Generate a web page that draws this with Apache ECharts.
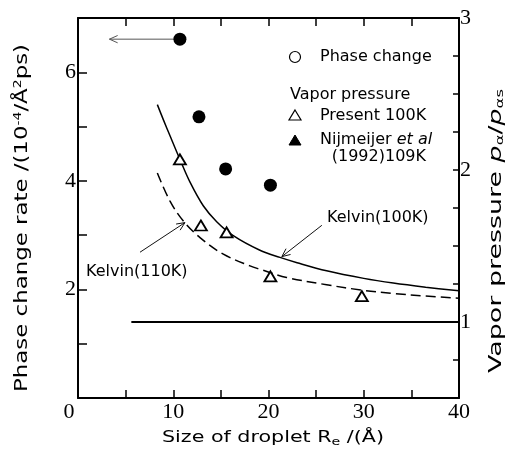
<!DOCTYPE html>
<html>
<head>
<meta charset="utf-8">
<script src="https://cdn.jsdelivr.net/npm/echarts@6/dist/echarts.min.js"></script>
<style>
  html, body { margin: 0; padding: 0; background: #fff; }
  #chart { width: 513px; height: 458px; }
</style>
</head>
<body>
<div id="chart"></div>
<script>
// Phase change rate of droplets (left axis)
const rateSize = [10.7, 12.7, 15.5, 20.2];
const rateValue = [6.61, 5.18, 4.22, 3.92];

// Vapor pressure from the present simulation, 100K (right axis)
const vaporSize = [10.7, 12.9, 15.6, 20.2, 29.8];
const vaporValue = [2.07, 1.635, 1.59, 1.30, 1.17];

// Kelvin equation curve, 100K
const kelvin100Size = [8.33, 9.0, 9.66, 10.7, 11.76, 13.15, 14.56, 16.3, 19.1, 21.2, 23.0, 26.1, 30.0, 33.1, 36.5, 40.0];
const kelvin100Value = [2.43, 2.325, 2.225, 2.07, 1.92, 1.765, 1.66, 1.568, 1.472, 1.425, 1.39, 1.337, 1.287, 1.256, 1.229, 1.205];

// Kelvin equation curve, 110K
const kelvin110Size = [8.33, 9.66, 11.06, 12.81, 15.26, 18.06, 19.1, 21.9, 26.1, 30.0, 33.1, 36.5, 40.0];
const kelvin110Value = [1.98, 1.795, 1.664, 1.555, 1.446, 1.369, 1.347, 1.293, 1.245, 1.208, 1.188, 1.171, 1.157];

// Saturation reference p/ps = 1
const flatSize = [5.6, 40];
const flatValue = [1, 1];

// Annotation arrows: [tailX, tailY, headX, headY]
const rateArrow = [[10.7, 6.61, 3.3, 6.61]];
const kelvinArrows = [[25.6, 1.636, 21.4, 1.43], [6.51, 1.459, 11.23, 1.654]];

// Tick labels
const xLabels = [0, 10, 20, 30, 40];
const leftLabels = [2, 4, 6];
const rightLabels = [1, 2, 3];

const SANS = '"DejaVu Sans", sans-serif';
const SERIF = '"Liberation Serif", "Times New Roman", serif';

function zip(a, b) { return a.map((v, i) => [v, b[i]]); }

// width of a run of text pieces [text, size, style]
const measureCtx = document.createElement('canvas').getContext('2d');
function runWidth(pieces) {
  let w = 0;
  pieces.forEach(([t, size, style]) => {
    measureCtx.font = (style ? style + ' ' : '') + size + 'px ' + SANS;
    w += measureCtx.measureText(t).width;
  });
  return w;
}

// Axis titles, widened along the reading direction to the spaced-out lettering
function axisTitle(x, y, rotation, span, pieces, rich, text) {
  const w = runWidth(pieces);
  return {
    type: 'text', x: x, y: y, rotation: rotation, scaleX: span / w,
    style: {
      text: text, font: pieces[0][1] + 'px ' + SANS, fill: '#000',
      align: 'center', verticalAlign: 'middle', rich: rich
    }
  };
}

function arrowItem(color) {
  return function (params, api) {
    const p0 = api.coord([api.value(0), api.value(1)]);
    const p1 = api.coord([api.value(2), api.value(3)]);
    const ang = Math.atan2(p1[1] - p0[1], p1[0] - p0[0]);
    const L = 9, w = 0.42;
    const a1 = [p1[0] - L * Math.cos(ang - w), p1[1] - L * Math.sin(ang - w)];
    const a2 = [p1[0] - L * Math.cos(ang + w), p1[1] - L * Math.sin(ang + w)];
    return {
      type: 'group',
      children: [
        { type: 'line', shape: { x1: p0[0], y1: p0[1], x2: p1[0], y2: p1[1] },
          style: { stroke: color, lineWidth: 1 } },
        { type: 'polyline', shape: { points: [a1, p1, a2] },
          style: { stroke: color, lineWidth: 1, fill: null } }
      ]
    };
  };
}

const chart = echarts.init(document.getElementById('chart'), null, { renderer: 'canvas' });

const tickStyle = { color: '#000', width: 1.5 };
const supStyle = { fontFamily: SANS, fontSize: 11, fill: '#000', verticalAlign: 'top', padding: [0, 0, 8, 0] };
const subStyle = { fontFamily: SANS, fontSize: 11, fill: '#000', verticalAlign: 'bottom', padding: [8, 0, 0, 0] };

const leftTitle = axisTitle(22, 218, Math.PI / 2, 348,
  [['Phase change rate /(10', 18], ['-4', 11], ['/Å', 18], ['2', 11], ['ps)', 18]],
  { sup: supStyle },
  'Phase change rate /(10{sup|-4}/Å{sup|2}ps)');

const rightTitle = axisTitle(496, 231, Math.PI / 2, 284,
  [['Vapor pressure ', 18], ['p', 18, 'italic'], ['α', 11], ['/', 18], ['p', 18, 'italic'], ['αs', 11]],
  { it: { fontFamily: SANS, fontSize: 18, fontStyle: 'italic', fill: '#000' }, sub: subStyle },
  'Vapor pressure {it|p}{sub|α}/{it|p}{sub|αs}');

const bottomTitle = axisTitle(273, 438, 0, 222,
  [['Size of droplet R', 16], ['e', 11], [' /(Å)', 16]],
  { sub: subStyle },
  'Size of droplet R{sub|e} /(Å)');

chart.setOption({
  animation: false,
  backgroundColor: '#fff',
  grid: { left: 78, right: 54, top: 18, bottom: 60 },
  xAxis: [
    {
      type: 'value', min: 0, max: 40, interval: 5, position: 'bottom',
      axisLine: { show: true, onZero: false, lineStyle: { color: '#000', width: 2 } },
      axisTick: { show: true, inside: true, length: 8, lineStyle: tickStyle },
      splitLine: { show: false },
      axisLabel: {
        margin: 3, color: '#000', fontFamily: SERIF, fontSize: 22,
        formatter: v => xLabels.includes(v) ? (v === 0 ? '{z|0}' : String(v)) : '',
        rich: { z: { fontFamily: SERIF, fontSize: 22, color: '#000', padding: [0, 18, 0, 0] } }
      }
    },
    {
      type: 'value', min: 0, max: 40, interval: 5, position: 'top',
      axisLine: { show: true, onZero: false, lineStyle: { color: '#000', width: 2 } },
      axisTick: { show: true, inside: true, length: 8, lineStyle: tickStyle },
      axisLabel: { show: false },
      splitLine: { show: false }
    }
  ],
  yAxis: [
    {
      type: 'value', min: 0, max: 7, interval: 1, position: 'left',
      axisLine: { show: true, onZero: false, lineStyle: { color: '#000', width: 2 } },
      axisTick: { show: true, inside: true, length: 9, lineStyle: tickStyle },
      splitLine: { show: false },
      axisLabel: {
        margin: 2, color: '#000', fontFamily: SERIF, fontSize: 22,
        formatter: v => leftLabels.includes(v) ? String(v) : ''
      }
    },
    {
      type: 'value', min: 0.5, max: 3, interval: 0.25, position: 'right',
      axisLine: { show: true, onZero: false, lineStyle: { color: '#000', width: 2 } },
      axisTick: { show: true, inside: true, length: 6, lineStyle: tickStyle },
      splitLine: { show: false },
      axisLabel: {
        margin: 1, color: '#000', fontFamily: SERIF, fontSize: 22,
        formatter: v => rightLabels.includes(v) ? String(v) : ''
      }
    }
  ],
  series: [
    {
      name: 'Saturation', type: 'line', xAxisIndex: 0, yAxisIndex: 1,
      data: zip(flatSize, flatValue), showSymbol: false, symbol: 'none',
      lineStyle: { color: '#000', width: 2 }, silent: true
    },
    {
      name: 'Kelvin(100K)', type: 'line', xAxisIndex: 0, yAxisIndex: 1,
      data: zip(kelvin100Size, kelvin100Value), smooth: 0.35, symbol: 'none',
      lineStyle: { color: '#000', width: 1.5 }, silent: true
    },
    {
      name: 'Kelvin(110K)', type: 'line', xAxisIndex: 0, yAxisIndex: 1,
      data: zip(kelvin110Size, kelvin110Value), smooth: 0.35, symbol: 'none',
      lineStyle: { color: '#000', width: 1.5, type: [10, 5] }, silent: true
    },
    {
      name: 'Kelvin arrows', type: 'custom', xAxisIndex: 0, yAxisIndex: 1,
      data: kelvinArrows, renderItem: arrowItem('#111'), clip: false,
      encode: { x: [0, 2], y: [1, 3] }, silent: true
    },
    {
      name: 'Rate arrow', type: 'custom', xAxisIndex: 0, yAxisIndex: 0,
      data: rateArrow, renderItem: arrowItem('#555'), clip: false,
      encode: { x: [0, 2], y: [1, 3] }, silent: true
    },
    {
      name: 'Present 100K', type: 'scatter', xAxisIndex: 0, yAxisIndex: 1,
      data: zip(vaporSize, vaporValue), symbol: 'triangle', symbolSize: [12, 10],
      itemStyle: { color: '#fff', borderColor: '#000', borderWidth: 1.8, opacity: 1 }, z: 5
    },
    {
      name: 'Phase change', type: 'scatter', xAxisIndex: 0, yAxisIndex: 0,
      data: zip(rateSize, rateValue), symbol: 'circle', symbolSize: 13,
      itemStyle: { color: '#000', opacity: 1 }, z: 5
    }
  ],
  graphic: [
    leftTitle, rightTitle, bottomTitle,
    // legend
    { type: 'circle', shape: { cx: 295, cy: 57, r: 5.5 }, style: { fill: '#fff', stroke: '#000', lineWidth: 1.2 } },
    { type: 'text', x: 320, y: 57, style: { text: 'Phase change', font: '16px ' + SANS, fill: '#000', verticalAlign: 'middle' } },
    { type: 'text', x: 290, y: 95, style: { text: 'Vapor pressure', font: '16px ' + SANS, fill: '#000', verticalAlign: 'middle' } },
    { type: 'polygon', shape: { points: [[295, 110], [301, 120], [289, 120]] }, style: { fill: '#fff', stroke: '#000', lineWidth: 1.2 } },
    { type: 'text', x: 320, y: 116, style: { text: 'Present 100K', font: '16px ' + SANS, fill: '#000', verticalAlign: 'middle' } },
    { type: 'polygon', shape: { points: [[295, 135], [301, 145], [289, 145]] }, style: { fill: '#000', stroke: '#000', lineWidth: 1 } },
    { type: 'text', x: 320, y: 140, style: {
        text: 'Nijmeijer {it|et al}', font: '16px ' + SANS, fill: '#000', verticalAlign: 'middle',
        rich: { it: { fontFamily: SANS, fontSize: 16, fontStyle: 'italic', fill: '#000' } } } },
    { type: 'text', x: 426, y: 157, style: { text: '(1992)109K', font: '16px ' + SANS, fill: '#000', verticalAlign: 'middle', align: 'right' } },
    // curve annotations
    { type: 'text', x: 327, y: 218, style: { text: 'Kelvin(100K)', font: '16px ' + SANS, fill: '#000', verticalAlign: 'middle' } },
    { type: 'text', x: 86, y: 272, style: { text: 'Kelvin(110K)', font: '16px ' + SANS, fill: '#000', verticalAlign: 'middle' } }
  ]
});
</script>
</body>
</html>
